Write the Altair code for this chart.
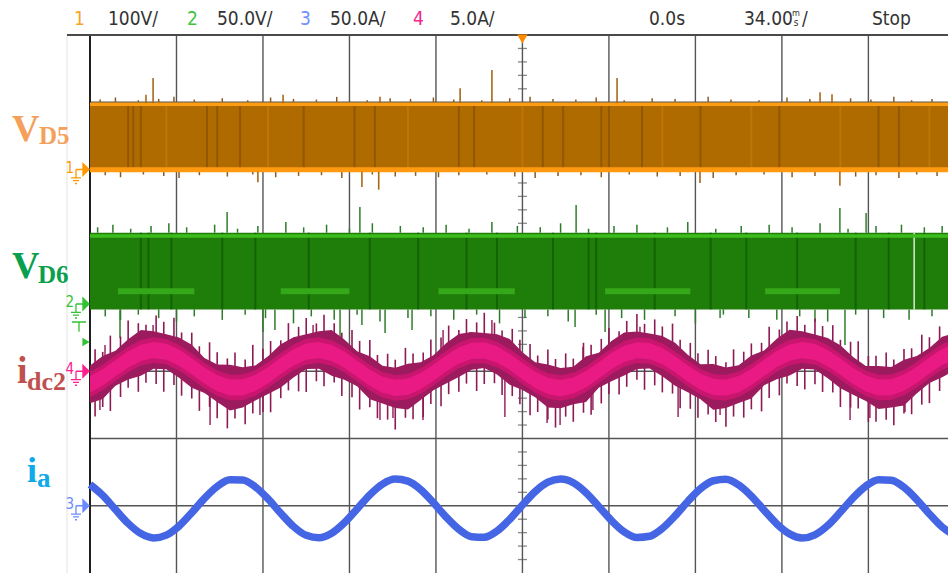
import altair as alt
import numpy as np
import pandas as pd

# ---------------------------------------------------------------- scope setup
W, H = 858, 538                      # graticule area (px)
T_LEFT, T_RIGHT = -170.0, 167.3      # visible time window (ms), 34 ms/div
CH_SCALE = {"1": 100.0, "2": 50.0, "3": 50.0, "4": 5.0}   # units per division
CH_OFFSET = {"1": 2.0, "2": 0.0, "3": -3.0, "4": -1.0}     # ground level (div)

# ---------------------------------------------------------------- trace data
t_ms = list(range(-170, 171, 5))

ia_A = [15.8, 7.7, -2.8, -13.1, -20.7, -23.9, -21.8, -15.1, -5.2, 5.5,
        14.3, 19.3, 19.2, 14.0, 5.1, -5.6, -15.4, -22.0, -23.8, -20.5,
        -12.7, -2.4, 8.1, 16.1, 19.8, 18.3, 12.0, 2.3, -8.4, -17.5,
        -23.0, -23.4, -18.8, -10.1, 0.5, 10.5, 17.5, 19.9, 17.1, 9.7,
        -0.5, -11.0, -19.4, -23.6, -22.7, -16.8, -7.5, 3.2, 12.7, 18.6,
        19.7, 15.5, 7.2, -3.3, -13.5, -20.9, -23.9, -21.6, -14.7, -4.7,
        5.9, 14.6, 19.4, 19.0, 13.7, 4.6, -6.1, -15.8, -22.2]

idc2_mid_A = [-0.98, -0.46, 0.22, 0.88, 1.37, 1.58, 1.45, 1.01, 0.37, -0.32,
              -0.89, -1.21, -1.20, -0.87, -0.29, 0.40, 1.03, 1.46, 1.58, 1.36,
              0.86, 0.19, -0.48, -1.00, -1.24, -1.14, -0.73, -0.11, 0.58, 1.17,
              1.52, 1.55, 1.25, 0.69, 0.01, -0.64, -1.09, -1.25, -1.06, -0.59,
              0.07, 0.75, 1.29, 1.56, 1.50, 1.13, 0.52, -0.17, -0.78, -1.16,
              -1.23, -0.96, -0.43, 0.25, 0.91, 1.39, 1.58, 1.43, 0.98, 0.34,
              -0.34, -0.91, -1.21, -1.19, -0.85, -0.26, 0.43, 1.06, 1.47]

idc2_spread_A = [1.4, 1.6, 1.3, 1.5, 1.7, 1.4, 1.3, 1.5, 1.6, 1.3,
                 1.4, 1.7, 1.5, 1.3, 1.4, 1.6, 1.5, 1.3, 1.4, 1.7,
                 1.5, 1.3, 1.6, 1.4, 1.5, 1.7, 1.4, 1.3, 1.5, 1.6,
                 1.4, 1.3, 1.5, 1.7, 1.4, 1.3, 1.6, 1.5, 1.4, 1.7,
                 1.3, 1.5, 1.6, 1.4, 1.3, 1.5, 1.6, 1.4, 1.3, 1.7,
                 1.5, 1.4, 1.6, 1.3, 1.5, 1.7, 1.4, 1.3, 1.5, 1.6,
                 1.4, 1.3, 1.6, 1.5, 1.7, 1.4, 1.3, 1.5, 1.4]

# noise hairlines on i_dc2: time (ms), excursion above / below the centreline (A)
idc2_noise_t = [-168, -165, -162, -158, -155, -151, -148, -144, -141, -137,
                -134, -130, -127, -123, -120, -116, -113, -109, -106, -102,
                -99, -95, -92, -88, -85, -81, -78, -74, -71, -67,
                -64, -60, -57, -53, -50, -46, -43, -39, -36, -32,
                -29, -25, -22, -18, -15, -11, -8, -4, -1, 3,
                6, 10, 13, 17, 20, 24, 27, 31, 34, 38,
                41, 45, 48, 52, 55, 59, 62, 66, 69, 73,
                76, 80, 83, 87, 90, 94, 97, 101, 104, 108,
                111, 115, 118, 122, 125, 129, 132, 136, 139, 143,
                146, 150, 153, 157, 160, 164]
idc2_noise_up = [2.4, 1.9, 2.7, 2.1, 2.9, 2.3, 2.0, 2.6, 2.2, 2.8,
                 2.0, 2.5, 1.9, 2.7, 2.3, 2.1, 2.6, 2.0, 2.9, 2.2,
                 2.4, 1.9, 2.8, 2.1, 2.5, 2.0, 2.7, 2.3, 1.9, 2.6,
                 2.2, 2.8, 2.0, 2.4, 2.1, 2.9, 2.3, 2.0, 2.6, 2.2,
                 2.7, 1.9, 2.5, 2.1, 2.8, 2.3, 2.0, 2.6, 2.2, 2.4,
                 1.9, 2.7, 2.1, 2.5, 2.0, 2.8, 2.3, 2.2, 2.6, 1.9,
                 2.4, 2.7, 2.0, 2.5, 2.2, 2.9, 2.1, 2.4, 2.0, 2.6,
                 2.3, 1.9, 2.7, 2.2, 2.5, 2.0, 2.8, 2.1, 2.4, 2.6,
                 1.9, 2.5, 2.2, 2.7, 2.0, 2.4, 2.8, 2.1, 2.3, 2.6,
                 2.0, 2.5, 2.2, 2.7, 2.1, 2.4]
idc2_noise_dn = [2.6, 2.2, 2.9, 2.4, 2.1, 2.8, 2.3, 2.5, 3.0, 2.2,
                 2.7, 2.4, 2.9, 2.1, 2.6, 3.1, 2.3, 2.8, 2.2, 2.5,
                 2.9, 2.4, 2.2, 2.7, 3.0, 2.3, 2.6, 2.1, 2.8, 2.4,
                 2.9, 2.2, 2.7, 2.5, 3.1, 2.3, 2.6, 2.8, 2.2, 2.9,
                 2.4, 2.7, 2.3, 3.0, 2.5, 2.2, 2.8, 2.4, 2.6, 2.9,
                 2.3, 2.5, 3.0, 2.2, 2.7, 2.4, 2.9, 2.6, 2.3, 2.8,
                 2.5, 2.2, 2.9, 2.4, 2.7, 2.3, 3.0, 2.5, 2.8, 2.2,
                 2.6, 2.9, 2.3, 2.7, 2.4, 3.1, 2.5, 2.8, 2.2, 2.6,
                 2.9, 2.4, 2.7, 2.3, 3.0, 2.5, 2.2, 2.8, 2.6, 2.4,
                 2.9, 2.3, 2.7, 2.5, 2.8, 2.4]

idc2_spike_t = [-164.1, -145.2, -82.3, -31.2, -20.6, -12.0, 23.8, 41.1, 46.2, 109.1,
                -166.1, -122.8, -103.2, -56.0, -50.9, -39.1, -6.9, 9.7, 14.8, 27.7,
                61.2, 77.7, 128.8, 136.6, 150.4]
idc2_spike_tip = [1.95, 3.44, 3.44, 3.06, 2.9, 3.81, 1.8, 2.7, 3.3, 2.83,
                  -2.88, -4.0, -3.25, -3.62, -3.48, -3.62, -3.4, -3.85, -4.0, -2.88,
                  -3.4, -3.25, -3.62, -3.48, -3.03]

# V_D5: switching between two levels (V)
vd5_high, vd5_low = 99.0, -3.5
vd5_top_edge, vd5_bottom_edge = 97.0, -0.5
vd5_spike_t = [-148.0, -145.2, -94.1, -56.0, -24.5, -12.0, 37.2, 117.0, 121.7,
               -104.0, -63.1, -56.5, 69.8, 124.8]
vd5_spike_tip = [111, 136, 111, 108, 121, 148, 136, 115, 112, -19, -26, -30, -20, -24]
vd5_dark_t = [-155, -153, -150, -124, -120, -111, -86, -66, -58, -25,
              -19, 8, 16, 31, 34, 47, 70, 101, 140, 148]
vd5_light_t = [-140, -100, -45, 0, 55, 90, 125, 160]
vd5_fringe_t = [-166, -160, -151, -143, -137, -129, -118, -108, -99, -90,
                -81, -73, -61, -52, -44, -35, -27, -16, -5, 3,
                12, 21, 29, 40, 51, 60, 73, 82, 93, 104,
                113, 129, 137, 146, 153, 161]
vd5_fringe_len = [5, 8, 4, 6, 9, 5, 7, 4, 8, 6,
                  5, 9, 4, 7, 6, 8, 5, 4, 7, 9,
                  6, 5, 8, 4, 7, 6, 9, 5, 4, 8,
                  6, 7, 5, 9, 4, 6]

# V_D6 (V)
vd6_high, vd6_low = 53.0, -4.0
vd6_top_edge, vd6_mid_level = 50.5, 9.5
vd6_mid_from = [-159.0, -95.0, -33.0, 32.5, 95.4]
vd6_mid_to = [-129.0, -68.0, -3.0, 66.0, 124.8]
vd6_spike_t = [-158.2, -102.0, -97.3, -71.7, -63.1, -54.0, -43.4, 20.7, 32.5, 77.7,
               115.0, 126.8, -116.1, -63.9, 21.1, 124.8, 135.1]
vd6_spike_tip = [-25.3, -20.8, -19.3, -26.0, -15.6, -21.6, -19.3, -17.1, -20.8, -10.4,
                 -13.4, -30.5, 68.4, 72.1, 73.6, 71.4, 67.7]
vd6_dark_t = [-150, -147, -138, -118, -105, -84, -60, -41, -22, -10,
              12, 26, 29, 52, 74, 88, 108, 131, 144, 158]
vd6_gap_t = [154.0]
vd6_fringe_t = [-167, -161, -154, -146, -139, -132, -121, -112, -104, -93,
                -86, -77, -68, -59, -48, -39, -30, -21, -12, -2,
                7, 15, 26, 36, 45, 57, 65, 76, 86, 97,
                106, 117, 128, 139, 149, 158, 165]
vd6_fringe_len = [4, 6, 3, 5, 7, 4, 6, 3, 5, 8,
                  4, 6, 3, 7, 5, 4, 6, 3, 8, 5,
                  4, 7, 3, 5, 6, 4, 8, 3, 5, 6,
                  4, 7, 3, 5, 6, 4, 5]

grid_t = [-170 + 34 * k for k in range(1, 10)]
grid_div = [-3, -2, -1, 0, 1, 2, 3]
trigger_level_div = -0.565

# ---------------------------------------------------------------- helpers
XS = alt.Scale(domain=[T_LEFT, T_RIGHT], nice=False, zero=False)
YS = alt.Scale(domain=[-4, 4], nice=False, zero=False)
NARROW = "Liberation Sans Narrow, DejaVu Sans Condensed, sans-serif"


def div(v, ch):
    return np.asarray(v, dtype=float) / CH_SCALE[ch] + CH_OFFSET[ch]


def X(f="t"):
    return alt.X(f"{f}:Q", scale=XS, axis=None)


def Y(f="y"):
    return alt.Y(f"{f}:Q", scale=YS, axis=None)


def rules(t, lo, hi, color, width, opacity=1.0):
    df = pd.DataFrame({"t": t, "lo": lo, "hi": hi})
    return alt.Chart(df).mark_rule(color=color, strokeWidth=width, opacity=opacity).encode(
        x=X("t"), y=Y("lo"), y2=alt.Y2("hi"))


def band(lo, hi, color, t0=T_LEFT, t1=175.0):
    df = pd.DataFrame({"t0": [t0], "t1": [t1], "lo": [lo], "hi": [hi]})
    return alt.Chart(df).mark_rect(color=color).encode(
        x=X("t0"), x2=alt.X2("t1"), y=Y("lo"), y2=alt.Y2("hi"))


def hline(t0, t1, level, color, width):
    df = pd.DataFrame({"t0": t0, "t1": t1, "y": level})
    return alt.Chart(df).mark_rule(color=color, strokeWidth=width).encode(
        x=X("t0"), x2=alt.X2("t1"), y=Y("y"))


def area(t, lo, hi, color):
    df = pd.DataFrame({"t": t, "lo": lo, "hi": hi})
    return alt.Chart(df).mark_area(color=color, opacity=1).encode(
        x=X("t"), y=Y("lo"), y2=alt.Y2("hi"))


ONE = pd.DataFrame({"_": [0]})


def label(text, x, y, color, size, font=NARROW, weight="normal", baseline="middle", align="left"):
    return alt.Chart(ONE).mark_text(
        text=text, font=font, fontSize=size, fontWeight=weight, color=color,
        align=align, baseline=baseline).encode(x=alt.value(x - 90), y=alt.value(y - 35))


layers = []

# ---------------------------------------------------------------- graticule
layers.append(alt.Chart(ONE).mark_rule(color="#e2e2e2", strokeWidth=1).encode(
    x=alt.value(-23), y=alt.value(0), y2=alt.value(H)))
layers.append(alt.Chart(pd.DataFrame({"t": grid_t})).mark_rule(color="#555555", strokeWidth=1.4).encode(
    x=X("t"), y=alt.value(0), y2=alt.value(H)))
layers.append(alt.Chart(pd.DataFrame({"d": grid_div})).mark_rule(color="#555555", strokeWidth=1.4).encode(
    y=Y("d"), x=alt.value(0), x2=alt.value(W)))
minor_div = [k / 5 for k in range(-20, 21) if k % 5]
layers.append(alt.Chart(pd.DataFrame({"t": 0.0, "d": minor_div})).mark_tick(
    orient="horizontal", color="#555555", size=9, thickness=1.3).encode(x=X("t"), y=Y("d")))
minor_t = [k * 34 / 5 for k in range(-25, 25) if k % 5]
layers.append(alt.Chart(pd.DataFrame({"t": minor_t, "d": 0.0})).mark_tick(
    orient="vertical", color="#555555", size=9, thickness=1.3).encode(x=X("t"), y=Y("d")))
layers.append(alt.Chart(ONE).mark_rule(color="#202020", strokeWidth=2).encode(
    x=alt.value(0), y=alt.value(0), y2=alt.value(H)))
layers.append(alt.Chart(ONE).mark_rule(color="#4a4a4a", strokeWidth=2).encode(
    y=alt.value(0), x=alt.value(-23), x2=alt.value(W)))

# ---------------------------------------------------------------- CH1  V_D5
lo1, hi1 = div(vd5_low, "1"), div(vd5_high, "1")
f1 = np.array(vd5_fringe_len, dtype=float)
layers.append(rules(vd5_fringe_t, div(vd5_high, "1"), div(vd5_high + f1, "1"), "#8a5a20", 1.5))
layers.append(rules(np.array(vd5_fringe_t) + 2, div(vd5_low, "1"), div(vd5_low - f1, "1"), "#8a5a20", 1.5))
layers.append(band(lo1, hi1, "#b06b00"))
layers.append(rules(vd5_dark_t, lo1, hi1, "#8c5200", 2, 0.8))
layers.append(rules(vd5_light_t, lo1, hi1, "#c47a08", 2, 0.7))
layers.append(hline([T_LEFT], [175.0], [div(vd5_top_edge, "1")], "#ff9d12", 3.5))
layers.append(hline([T_LEFT], [175.0], [div(vd5_bottom_edge, "1")], "#ff9a10", 5))
tips1 = np.array(vd5_spike_tip, dtype=float)
base1 = np.where(tips1 > 0, vd5_high, vd5_low)
layers.append(rules(vd5_spike_t, div(base1, "1"), div(tips1, "1"), "#a8681c", 1.6))

# ---------------------------------------------------------------- CH2  V_D6
lo2, hi2 = div(vd6_low, "2"), div(vd6_high, "2")
f2 = np.array(vd6_fringe_len, dtype=float)
layers.append(rules(vd6_fringe_t, div(vd6_high, "2"), div(vd6_high + f2, "2"), "#2d7a2a", 1.5))
layers.append(rules(np.array(vd6_fringe_t) + 3, div(vd6_low, "2"), div(vd6_low - 1.3 * f2, "2"), "#2d7a2a", 1.5))
layers.append(band(lo2, hi2, "#1f7d0a"))
layers.append(rules(vd6_dark_t, lo2, hi2, "#0e5c02", 2, 0.8))
layers.append(rules(vd6_gap_t, lo2, hi2, "#dfe8d8", 1.5))
layers.append(hline([T_LEFT], [175.0], [div(vd6_top_edge, "2")], "#3dbb1c", 3.5))
layers.append(hline(vd6_mid_from, vd6_mid_to, [div(vd6_mid_level, "2")] * len(vd6_mid_from),
                    "#34a818", 6))
tips2 = np.array(vd6_spike_tip, dtype=float)
base2 = np.where(tips2 > 0, vd6_high, vd6_low)
layers.append(rules(vd6_spike_t, div(base2, "2"), div(tips2, "2"), "#2f7f2a", 1.5))

# ---------------------------------------------------------------- CH4  i_dc2
mid4 = np.array(idc2_mid_A)
spr4 = np.array(idc2_spread_A)
base4 = np.interp(idc2_spike_t, t_ms, mid4)
layers.append(rules(idc2_spike_t, div(base4, "4"), div(idc2_spike_tip, "4"), "#9a2862", 1.5))
nmid = np.interp(idc2_noise_t, t_ms, mid4)
layers.append(rules(idc2_noise_t, div(nmid - np.array(idc2_noise_dn), "4"),
                    div(nmid + np.array(idc2_noise_up), "4"), "#8e1a55", 1.6))
layers.append(area(t_ms, div(mid4 - spr4, "4"), div(mid4 + spr4, "4"), "#9c1a5e"))
layers.append(area(t_ms, div(mid4 - 0.95, "4"), div(mid4 + 0.95, "4"), "#c8166f"))
layers.append(area(t_ms, div(mid4 - 0.6, "4"), div(mid4 + 0.6, "4"), "#ea1a84"))

# ---------------------------------------------------------------- CH3  i_a
ia = pd.DataFrame({"t": t_ms, "y": div(ia_A, "3")})
layers.append(alt.Chart(ia).mark_line(color="#4566e4", strokeWidth=7.5, interpolate="monotone").encode(
    x=X("t"), y=Y("y")))

# ---------------------------------------------------------------- channel markers
MARK = ("M-0.86,0 L0.14,0 M0.14,-0.85 L1,0 L0.14,0.85 Z M-0.86,0 L-0.86,1.2 "
        "M-1.57,1.2 L-0.15,1.2 M-1.29,1.6 L-0.43,1.6 M-1.0,2.0 L-0.72,2.0")
marker_colors = {"1": "#ff9a00", "2": "#33c233", "3": "#6a8cff", "4": "#ff2090"}
for ch, col in marker_colors.items():
    g = pd.DataFrame({"y": [CH_OFFSET[ch]]})
    layers.append(alt.Chart(g).mark_point(shape=MARK, size=196, filled=True, fill=col, stroke=col,
                                          strokeWidth=1.3, opacity=1).encode(
        x=alt.value(-8), y=Y("y")))
    layers.append(alt.Chart(g).mark_text(text=ch, font=NARROW, fontSize=15, color=col,
                                         align="right", baseline="middle", dy=-2).encode(
        x=alt.value(-16), y=Y("y")))

TEE = "M-1,0 L1,0 M0,0 L0,1.4"
layers.append(alt.Chart(pd.DataFrame({"y": [-0.268]})).mark_point(
    shape=TEE, size=196, filled=False, stroke="#33c233", strokeWidth=1.3, opacity=1).encode(
    x=alt.value(-11), y=Y("y")))
layers.append(alt.Chart(pd.DataFrame({"y": [trigger_level_div]})).mark_point(
    shape="triangle-right", size=70, filled=True, color="#33c233", opacity=1).encode(
    x=alt.value(-4), y=Y("y")))
layers.append(alt.Chart(pd.DataFrame({"t": [0.0]})).mark_point(
    shape="triangle-down", size=110, filled=True, color="#ff8a00", opacity=1).encode(
    x=X("t"), y=alt.value(4)))

# ---------------------------------------------------------------- header
GRAY = "#333333"
for txt, x, col in [("1", 74, "#f5a623"), ("100V/", 108, GRAY), ("2", 187, "#3ec43e"),
                    ("50.0V/", 217, GRAY), ("3", 300, "#7090ff"), ("50.0A/", 330, GRAY),
                    ("4", 413, "#f0288c"), ("5.0A/", 450, GRAY), ("0.0s", 649, GRAY),
                    ("34.00", 744, GRAY), ("/", 802, GRAY), ("Stop", 872, GRAY)]:
    layers.append(label(txt, x, 19, col, 19))
layers.append(label("m", 796, 13, GRAY, 9, align="center"))
layers.append(label("s", 796, 23, GRAY, 10, align="center"))

# ---------------------------------------------------------------- signal names
SERIF = "Liberation Serif, Times New Roman, serif"
for txt, x, y, col, size in [("V", 12, 141, "#f5a05a", 38), ("D5", 39, 144, "#f5a05a", 25),
                             ("V", 12, 278, "#08a04c", 38), ("D6", 38, 283, "#08a04c", 25),
                             ("i", 17, 383, "#c0504d", 38), ("dc2", 27, 390, "#c0504d", 26),
                             ("i", 27, 482, "#10aae8", 36), ("a", 37, 487, "#10aae8", 27)]:
    layers.append(label(txt, x, y, col, size, font=SERIF, weight="bold", baseline="alphabetic"))

chart = alt.layer(*layers).properties(
    width=W, height=H,
    padding={"left": 90, "top": 35, "right": 0, "bottom": 0},
    autosize=alt.AutoSizeParams(type="none"),
    background="white",
).configure_view(stroke=None)

chart.save("out.html", embed_options={"renderer": "svg", "actions": False})
